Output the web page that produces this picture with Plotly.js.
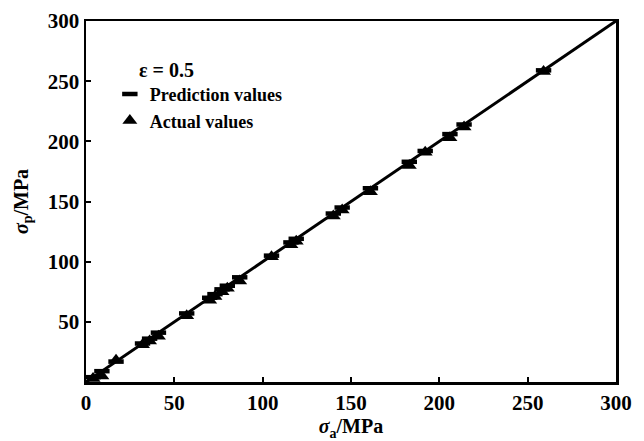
<!DOCTYPE html>
<html>
<head>
<meta charset="utf-8">
<script src="https://cdn.plot.ly/plotly-3.0.1.min.js"></script>
<style>html,body{margin:0;padding:0;background:#fff;}#chart{width:644px;height:441px;}</style>
</head>
<body>
<div id="chart"></div>
<script>
// Actual (measured) stress values, MPa
const actualX = [4, 9, 17, 32, 36, 41, 57, 70, 73, 77, 80, 87, 105, 116, 119, 140, 145, 161, 183, 192, 206, 214, 259];
// Predicted stress values at those points, MPa
const actualY = [3, 5, 18, 31, 34, 38, 55, 68, 71, 75, 78, 84, 104, 114, 117, 138, 143, 158, 180, 191, 203, 212, 258];
// Prediction line end points
const lineX = [0, 300];
const lineY = [0, 300];
const xTicks = [0, 50, 100, 150, 200, 250, 300];
const yTicks = [50, 100, 150, 200, 250, 300];
const epsilonLabel = "ε = 0.5";

const fontFam = "Liberation Serif, Times New Roman, serif";

const traces = [
  {
    x: lineX, y: lineY, mode: 'lines', type: 'scatter',
    line: {color: '#000', width: 3}, showlegend: false, hoverinfo: 'skip'
  },
  {
    x: actualX, y: actualX, mode: 'markers', type: 'scatter', name: 'Prediction values',
    marker: {symbol: 'line-ew', size: 11, color: '#000', line: {color: '#000', width: 4.5}}
  },
  {
    x: actualX, y: actualY, mode: 'markers', type: 'scatter', name: 'Actual values',
    marker: {symbol: 'triangle-up', size: 13, color: '#000', line: {width: 0}}
  }
];

const axisCommon = {
  showline: true, mirror: true, linecolor: '#000', linewidth: 2.5,
  ticks: 'inside', ticklen: 5, tickwidth: 2, tickcolor: '#000',
  showgrid: false, zeroline: false,
  tickfont: {family: fontFam, size: 21, color: '#000', weight: 'bold'},
  range: [0, 300], fixedrange: true
};

const layout = {
  width: 644, height: 441,
  margin: {l: 86, r: 28, t: 21, b: 59},
  paper_bgcolor: '#fff', plot_bgcolor: '#fff',
  font: {family: fontFam, color: '#000'},
  xaxis: Object.assign({}, axisCommon, {
    tickvals: xTicks,
    title: {text: '<i>σ</i><sub>a</sub>/MPa', font: {family: fontFam, size: 20, color: '#000', weight: 'bold'}, standoff: 6}
  }),
  yaxis: Object.assign({}, axisCommon, {
    tickvals: yTicks,
    title: {text: '<i>σ</i><sub>p</sub>/MPa', font: {family: fontFam, size: 20, color: '#000', weight: 'bold'}, standoff: 14}
  }),
  showlegend: true,
  legend: {
    x: 0.045, y: 0.848, xanchor: 'left', yanchor: 'top',
    bgcolor: 'rgba(0,0,0,0)', borderwidth: 0,
    font: {family: fontFam, size: 18, color: '#000', weight: 'bold'},
    itemwidth: 30, tracegroupgap: 0
  },
  annotations: [{
    text: epsilonLabel, xref: 'paper', yref: 'paper',
    x: 0.097, y: 0.864, xanchor: 'left', yanchor: 'middle', showarrow: false,
    font: {family: fontFam, size: 20, color: '#000', weight: 'bold'}
  }]
};

Plotly.newPlot('chart', traces, layout, {staticPlot: true, displayModeBar: false});
</script>
</body>
</html>
